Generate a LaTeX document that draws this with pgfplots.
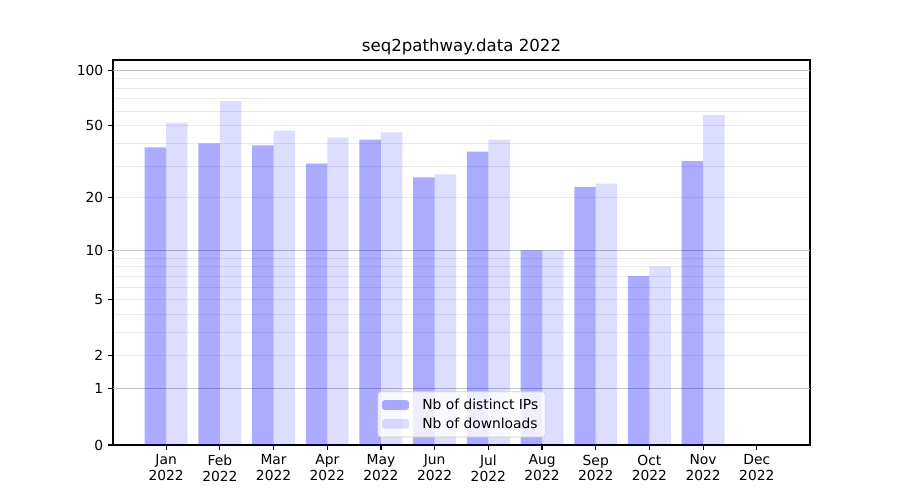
\documentclass[border=0pt]{standalone}
\usepackage{fontspec}
\setmainfont{DejaVu Sans}
\usepackage{pgfplots}
\pgfplotsset{compat=1.18}
\definecolor{majgrid}{HTML}{C4C4C4}
\definecolor{mingrid}{HTML}{EBEBEB}
\begin{document}
\begin{tikzpicture}
\begin{axis}[
  scale only axis, width=501.84bp, height=277.2bp,
  at={(0,0)}, anchor=south west,
  xmin=-0.99, xmax=11.99,
  ymin=0, ymax=113.5,
  y coord trafo/.code={\pgfmathparse{log10(#1+1)}},
  ytick={0,1,2,5,10,20,50,100},
  yticklabels={0,1,2,5,10,20,50,100},
  minor ytick={2,3,4,5,6,7,8,9,20,30,40,50,60,70,80,90},
  yminorgrids=true,
  minor grid style={mingrid, line width=0.6bp},
  minor tick length=0pt,
  extra y ticks={1,10,100},
  extra y tick labels={},
  extra y tick style={grid=major, major grid style={majgrid, line width=0.8bp}},
  xtick={0,1,2,3,4,5,6,7,8,9,10,11},
  xticklabels={{Jan\\2022},{Feb\\2022},{Mar\\2022},{Apr\\2022},{May\\2022},{Jun\\2022},{Jul\\2022},{Aug\\2022},{Sep\\2022},{Oct\\2022},{Nov\\2022},{Dec\\2022}},
  xticklabel style={align=center, font=\fontsize{10}{11.5}\selectfont},
  yticklabel style={font=\fontsize{10}{12}\selectfont},
  /pgf/number format/assume math mode=true,
  tick align=outside,
  tick pos=left,
  major tick length=3.5bp,
  every tick/.style={black, line width=0.8bp},
  axis line style={line width=0.8bp},
  title={seq2pathway.data 2022},
  title style={font=\fontsize{12}{14}\selectfont, yshift=-6bp},
  ybar, bar width=0.4,
  legend style={at={(0.5,0.02)}, anchor=south, draw=black!20, rounded corners=2pt,
    fill=white, fill opacity=0.8, text opacity=1, font=\fontsize{10}{12}\selectfont,
    inner xsep=3bp, inner ysep=3bp, row sep=0.5bp},
  legend cell align=left,
  legend image code/.code={\fill[#1] (0bp,-3.5bp) rectangle (19.5bp,3.5bp); \path (27bp,0bp);},
]
\addplot[fill=blue, fill opacity=0.33, draw=none, bar shift=-0.2] coordinates {
 (0,38) (1,40) (2,39) (3,31) (4,42) (5,26) (6,36) (7,10) (8,23) (9,7) (10,32) (11,0)};
\addlegendentry{Nb of distinct IPs}
\addplot[fill=blue, fill opacity=0.133, draw=none, bar shift=0.2] coordinates {
 (0,52) (1,68) (2,47) (3,43) (4,46) (5,27) (6,42) (7,10) (8,24) (9,8) (10,57) (11,0)};
\addlegendentry{Nb of downloads}
\end{axis}
\useasboundingbox (-81.36bp,-39.6bp) rectangle (566.64bp,320.4bp);
\end{tikzpicture}
\end{document}
